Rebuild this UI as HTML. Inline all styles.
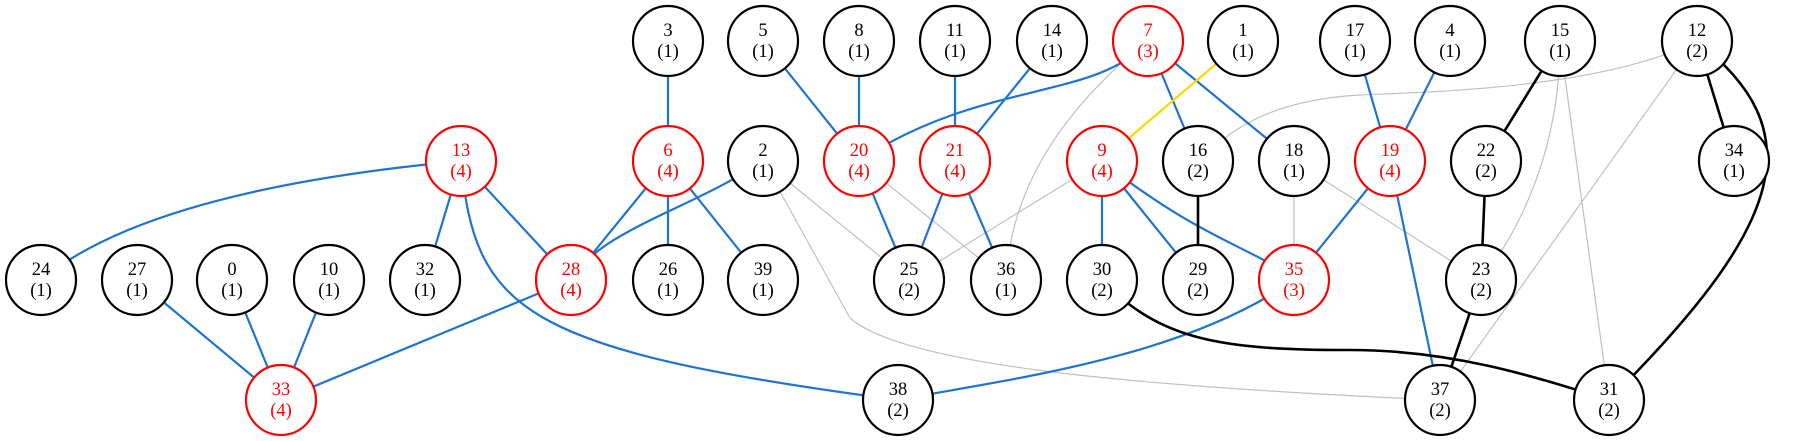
<!DOCTYPE html>
<html><head><meta charset="utf-8"><style>
html,body{margin:0;padding:0;background:#fff;}
svg{display:block;}
text{font-family:"Liberation Serif",serif;font-size:18.5px;text-anchor:middle;}
</style></head><body>
<svg width="1797" height="441" viewBox="0 0 1797 441" xmlns="http://www.w3.org/2000/svg">
<g fill="none">
<g stroke="#c0c0c0" stroke-width="1.2">
<line x1="763" y1="161" x2="909" y2="280"/>
<path d="M763,161 L850,318 C900,362 1100,385 1440,400"/>
<line x1="859" y1="161" x2="1006" y2="280"/>
<path d="M1147,41 C1050,120 1010,200 1006,280"/>
<line x1="1102" y1="161" x2="909" y2="280"/>
<path d="M1697,41 C1600,90 1420,92 1360,95 C1270,100 1230,130 1198,161"/>
<line x1="1294" y1="161" x2="1294" y2="280"/>
<line x1="1294" y1="161" x2="1481" y2="280"/>
<path d="M1560,41 C1560,150 1520,230 1481,280"/>
<line x1="1560" y1="41" x2="1609" y2="400"/>
<line x1="1697" y1="41" x2="1440" y2="400"/>
</g>
<g stroke="#1f74d0" stroke-width="2.2">
<line x1="668" y1="41" x2="668" y2="161"/>
<line x1="763" y1="41" x2="859" y2="161"/>
<line x1="859" y1="41" x2="859" y2="161"/>
<line x1="955" y1="41" x2="955" y2="161"/>
<line x1="1052" y1="41" x2="955" y2="161"/>
<path d="M1147,41 C1100,100 980,80 859,161"/>
<line x1="1148" y1="41" x2="1198" y2="161"/>
<line x1="1148" y1="41" x2="1294" y2="161"/>
<line x1="1355" y1="41" x2="1390" y2="161"/>
<line x1="1450" y1="41" x2="1390" y2="161"/>
<path d="M461,161 Q150,190 41,280"/>
<line x1="461" y1="161" x2="425" y2="280"/>
<line x1="461" y1="161" x2="571" y2="280"/>
<path d="M461,161 C475,310 520,350 898,400"/>
<line x1="668" y1="161" x2="571" y2="280"/>
<line x1="668" y1="161" x2="668" y2="280"/>
<line x1="668" y1="161" x2="763" y2="280"/>
<path d="M763,161 C690,210 600,230 571,280"/>
<line x1="859" y1="161" x2="909" y2="280"/>
<line x1="955" y1="161" x2="909" y2="280"/>
<line x1="955" y1="161" x2="1006" y2="280"/>
<line x1="1102" y1="161" x2="1102" y2="280"/>
<line x1="1102" y1="161" x2="1198" y2="280"/>
<path d="M1102,161 C1200,240 1260,250 1294,280"/>
<line x1="1390" y1="161" x2="1294" y2="280"/>
<line x1="1390" y1="161" x2="1440" y2="400"/>
<line x1="137" y1="280" x2="281" y2="400"/>
<line x1="232" y1="280" x2="281" y2="400"/>
<line x1="329" y1="280" x2="281" y2="400"/>
<line x1="571" y1="280" x2="281" y2="400"/>
<path d="M1294,280 C1180,360 1000,380 898,400"/>
</g>
<line x1="1243" y1="41" x2="1102" y2="161" stroke="#ffd700" stroke-width="2.2"/>
<g stroke="#000" stroke-width="2.6">
<line x1="1198" y1="161" x2="1198" y2="280"/>
<line x1="1560" y1="41" x2="1486" y2="161"/>
<line x1="1697" y1="41" x2="1734" y2="161"/>
<path d="M1697,41 C1810,130 1790,220 1609,400"/>
<line x1="1486" y1="161" x2="1481" y2="280"/>
<line x1="1481" y1="280" x2="1440" y2="400"/>
<path d="M1102,280 C1160,340 1220,350 1350,350 C1450,350 1530,375 1609,400"/>
</g>
</g>
<g stroke-width="2.2" fill="#fff">
<g stroke="#000">
<circle cx="668" cy="41" r="35"/><circle cx="763" cy="41" r="35"/><circle cx="859" cy="41" r="35"/>
<circle cx="955" cy="41" r="35"/><circle cx="1052" cy="41" r="35"/><circle cx="1243" cy="41" r="35"/>
<circle cx="1355" cy="41" r="35"/><circle cx="1450" cy="41" r="35"/><circle cx="1560" cy="41" r="35"/>
<circle cx="1697" cy="41" r="35"/>
<circle cx="763" cy="161" r="35"/><circle cx="1198" cy="161" r="35"/><circle cx="1294" cy="161" r="35"/>
<circle cx="1486" cy="161" r="35"/><circle cx="1734" cy="161" r="35"/>
<circle cx="41" cy="280" r="35"/><circle cx="137" cy="280" r="35"/><circle cx="232" cy="280" r="35"/>
<circle cx="329" cy="280" r="35"/><circle cx="425" cy="280" r="35"/><circle cx="668" cy="280" r="35"/>
<circle cx="763" cy="280" r="35"/><circle cx="909" cy="280" r="35"/><circle cx="1006" cy="280" r="35"/>
<circle cx="1102" cy="280" r="35"/><circle cx="1198" cy="280" r="35"/><circle cx="1481" cy="280" r="35"/>
<circle cx="898" cy="400" r="35"/><circle cx="1440" cy="400" r="35"/><circle cx="1609" cy="400" r="35"/>
</g>
<g stroke="#ff0000">
<circle cx="1148" cy="41" r="35"/><circle cx="461" cy="161" r="35"/><circle cx="668" cy="161" r="35"/>
<circle cx="859" cy="161" r="35"/><circle cx="955" cy="161" r="35"/><circle cx="1102" cy="161" r="35"/>
<circle cx="1390" cy="161" r="35"/><circle cx="571" cy="280" r="35"/><circle cx="1294" cy="280" r="35"/>
<circle cx="281" cy="400" r="35"/>
</g>
</g>
<g fill="#000">
<text x="668" y="36">3</text><text x="668" y="57">(1)</text>
<text x="763" y="36">5</text><text x="763" y="57">(1)</text>
<text x="859" y="36">8</text><text x="859" y="57">(1)</text>
<text x="955" y="36">11</text><text x="955" y="57">(1)</text>
<text x="1052" y="36">14</text><text x="1052" y="57">(1)</text>
<text x="1243" y="36">1</text><text x="1243" y="57">(1)</text>
<text x="1355" y="36">17</text><text x="1355" y="57">(1)</text>
<text x="1450" y="36">4</text><text x="1450" y="57">(1)</text>
<text x="1560" y="36">15</text><text x="1560" y="57">(1)</text>
<text x="1697" y="36">12</text><text x="1697" y="57">(2)</text>
<text x="763" y="156">2</text><text x="763" y="177">(1)</text>
<text x="1198" y="156">16</text><text x="1198" y="177">(2)</text>
<text x="1294" y="156">18</text><text x="1294" y="177">(1)</text>
<text x="1486" y="156">22</text><text x="1486" y="177">(2)</text>
<text x="1734" y="156">34</text><text x="1734" y="177">(1)</text>
<text x="41" y="275">24</text><text x="41" y="296">(1)</text>
<text x="137" y="275">27</text><text x="137" y="296">(1)</text>
<text x="232" y="275">0</text><text x="232" y="296">(1)</text>
<text x="329" y="275">10</text><text x="329" y="296">(1)</text>
<text x="425" y="275">32</text><text x="425" y="296">(1)</text>
<text x="668" y="275">26</text><text x="668" y="296">(1)</text>
<text x="763" y="275">39</text><text x="763" y="296">(1)</text>
<text x="909" y="275">25</text><text x="909" y="296">(2)</text>
<text x="1006" y="275">36</text><text x="1006" y="296">(1)</text>
<text x="1102" y="275">30</text><text x="1102" y="296">(2)</text>
<text x="1198" y="275">29</text><text x="1198" y="296">(2)</text>
<text x="1481" y="275">23</text><text x="1481" y="296">(2)</text>
<text x="898" y="395">38</text><text x="898" y="416">(2)</text>
<text x="1440" y="395">37</text><text x="1440" y="416">(2)</text>
<text x="1609" y="395">31</text><text x="1609" y="416">(2)</text>
</g>
<g fill="#ff0000">
<text x="1148" y="36">7</text><text x="1148" y="57">(3)</text>
<text x="461" y="156">13</text><text x="461" y="177">(4)</text>
<text x="668" y="156">6</text><text x="668" y="177">(4)</text>
<text x="859" y="156">20</text><text x="859" y="177">(4)</text>
<text x="955" y="156">21</text><text x="955" y="177">(4)</text>
<text x="1102" y="156">9</text><text x="1102" y="177">(4)</text>
<text x="1390" y="156">19</text><text x="1390" y="177">(4)</text>
<text x="571" y="275">28</text><text x="571" y="296">(4)</text>
<text x="1294" y="275">35</text><text x="1294" y="296">(3)</text>
<text x="281" y="395">33</text><text x="281" y="416">(4)</text>
</g>
</svg>
</body></html>
